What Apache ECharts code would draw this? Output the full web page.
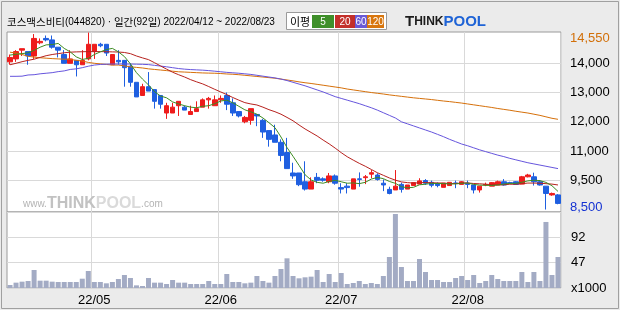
<!DOCTYPE html>
<html><head><meta charset="utf-8">
<script src="https://cdn.jsdelivr.net/npm/echarts@6/dist/echarts.min.js"></script>
<style>html,body{margin:0;padding:0;background:#ebebeb}#c{width:620px;height:310px}</style>
</head><body><div id="c"></div><script>
const dates = [
'2022/04/12','2022/04/13','2022/04/14','2022/04/15','2022/04/18','2022/04/19','2022/04/20','2022/04/21','2022/04/22','2022/04/25','2022/04/26','2022/04/27','2022/04/28','2022/04/29',
'2022/05/02','2022/05/03','2022/05/04','2022/05/06','2022/05/09','2022/05/10','2022/05/11','2022/05/12','2022/05/13','2022/05/16','2022/05/17','2022/05/18','2022/05/19','2022/05/20','2022/05/23','2022/05/24','2022/05/25','2022/05/26','2022/05/27','2022/05/30','2022/05/31',
'2022/06/02','2022/06/03','2022/06/07','2022/06/08','2022/06/09','2022/06/10','2022/06/13','2022/06/14','2022/06/15','2022/06/16','2022/06/17','2022/06/20','2022/06/21','2022/06/22','2022/06/23','2022/06/24','2022/06/27','2022/06/28','2022/06/29','2022/06/30',
'2022/07/01','2022/07/04','2022/07/05','2022/07/06','2022/07/07','2022/07/08','2022/07/11','2022/07/12','2022/07/13','2022/07/14','2022/07/15','2022/07/18','2022/07/19','2022/07/20','2022/07/21','2022/07/22','2022/07/25','2022/07/26','2022/07/27','2022/07/28','2022/07/29',
'2022/08/01','2022/08/02','2022/08/03','2022/08/04','2022/08/05','2022/08/08','2022/08/09','2022/08/10','2022/08/11','2022/08/12','2022/08/16','2022/08/17','2022/08/18','2022/08/19','2022/08/22','2022/08/23'];

const opens = [13550,13650,13950,13900,13750,14200,14350,14300,14050,13800,
 13500,13600,13450,13650,13900,14150,14150,13450,13600,13600,
 13400,12850,12400,12700,12600,12400,11800,11800,12050,12000,
 11750,11850,12000,12250,12050,12250,12400,12150,11850,11500,
 11550,11750,11550,11200,11050,10800,10450,9750,9750,9450,
 9200,9600,9550,9450,9650,9250,9300,9200,9550,9590,
 9710,9680,9400,9190,9170,9360,9200,9320,9370,9490,
 9430,9370,9260,9320,9410,9360,9400,9340,9170,9340,
 9300,9340,9450,9420,9450,9370,9620,9620,9450,9300,
 9000,9000];
const highs = [13800,13950,14000,13900,14500,14350,14450,14450,14050,13950,
 13950,13600,13950,14550,14150,14200,14150,13800,13950,13600,
 13500,12850,12800,13200,12600,12400,12150,12150,12200,12050,
 12050,12200,12300,12350,12400,12400,12500,12300,11850,11700,
 11950,11750,11600,11200,11400,10900,10950,10100,9750,10150,
 9600,9750,9600,9750,9700,9400,9400,9550,9770,9680,
 9850,9740,9530,9280,9850,9420,9340,9420,9570,9540,
 9490,9430,9400,9430,9490,9470,9490,9340,9300,9420,
 9440,9490,9540,9450,9470,9650,9720,9760,9510,9300,
 9080,9030];
const lows = [13450,13550,13750,13450,13650,14150,14250,14000,13700,13500,
 13500,13050,13450,13600,13650,14050,13750,13450,13450,12700,
 12700,12350,12400,12550,11950,11950,11600,11800,11700,11900,
 11750,11850,12000,11950,12050,12150,11900,11700,11650,11450,
 11400,11350,10950,10650,10800,10150,9900,9550,9300,9150,
 9200,9400,9450,9400,9350,9050,9050,9200,9280,9370,
 9570,9490,9130,9020,9170,9080,9200,9320,9370,9340,
 9260,9260,9260,9320,9230,9360,9230,9050,9080,9300,
 9300,9340,9320,9380,9360,9370,9600,9320,9320,8500,
 8970,8680];
const closes = [13700,13900,14000,13750,14350,14250,14300,14050,13950,13500,
 13650,13450,13600,14150,14150,14100,13850,13800,13550,13350,
 12850,12350,12700,12550,12200,12100,12050,12000,12200,11900,
 11850,11950,12250,12300,12250,12300,12100,11800,11700,11650,
 11950,11700,11150,10900,10800,10350,9900,9650,9350,9200,
 9450,9500,9500,9650,9400,9200,9250,9550,9530,9620,
 9760,9530,9340,9050,9300,9190,9340,9420,9480,9400,
 9330,9320,9400,9430,9390,9450,9360,9170,9300,9360,
 9420,9450,9340,9400,9360,9620,9680,9450,9340,9050,
 9050,8710];
// volume, x1000 shares
const volumes = [5.4,9.7,11.5,12.7,32.7,13.3,13.3,11.5,10.9,10.9,
 10.9,10.9,16.9,30.9,10.9,10.9,8.5,10.9,16.3,23.6,
 18.2,4.8,3.6,18.2,9.7,9.7,7.3,14.5,9.7,9.7,
 7.3,7.3,7.3,12.7,7.3,7.3,25.4,10.9,10.9,8.5,
 9.7,21.8,12.7,9.7,21.8,34.5,53.9,21.8,17.6,19.4,
 20.6,32.7,10.9,25.4,10.9,27.2,7.3,9.1,12.7,7.3,
 9.1,7.3,21.8,56.3,134.4,38.1,12.7,12.7,52.7,29.1,
 14.5,14.5,10.9,10.9,18.2,21.8,14.5,23.6,9.1,12.7,
 23.6,16.3,12.7,12.7,12.7,29.1,10.9,29.1,12.7,119.9,
 23.6,56.3];
const ma5 = [13780,13810,13830,13860,13940,14050,14130,14140,14180,14010,
 13890,13720,13630,13670,13800,13890,13970,14010,13890,13730,
 13480,13180,12960,12760,12530,12380,12320,12180,12110,12050,
 12000,11980,12030,12050,12120,12210,12240,12150,12030,11910,
 11840,11760,11630,11470,11300,10980,10620,10320,10010,9690,
 9510,9430,9400,9460,9500,9450,9400,9410,9386,9430,
 9542,9598,9556,9460,9396,9282,9244,9260,9346,9366,
 9394,9390,9386,9376,9374,9398,9406,9360,9334,9328,
 9322,9340,9374,9394,9394,9434,9480,9502,9490,9428,
 9314,9120];
const ma20 = [13450,13500,13555,13600,13640,13700,13760,13800,13830,13860,
 13880,13890,13895,13900,13900,13900,13895,13890,13885,13870,
 13830,13750,13685,13625,13520,13410,13300,13195,13110,13030,
 12940,12865,12795,12705,12610,12520,12430,12330,12240,12155,
 12110,12075,12000,11915,11845,11760,11650,11535,11390,11255,
 11135,11015,10875,10745,10600,10445,10305,10190,10080,9980,
 9870,9760,9670,9580,9505,9445,9420,9405,9415,9425,
 9415,9410,9405,9390,9390,9405,9410,9390,9380,9365,
 9350,9345,9345,9365,9365,9385,9405,9405,9400,9385,
 9370,9340];
const ma60 = [13055,13055,13060,13100,13110,13140,13160,13180,13215,13240,
 13290,13310,13350,13400,13440,13460,13470,13475,13475,13475,
 13475,13470,13465,13455,13430,13405,13380,13350,13320,13300,
 13285,13275,13265,13250,13230,13210,13190,13175,13160,13140,
 13120,13090,13060,13030,13000,12960,12910,12850,12790,12730,
 12660,12590,12520,12440,12360,12300,12240,12180,12120,12050,
 11980,11900,11810,11720,11630,11500,11430,11360,11290,11220,
 11150,11070,10990,10900,10820,10740,10680,10610,10540,10480,
 10420,10360,10310,10250,10200,10150,10100,10060,10020,9980,
 9940,9900];
const ma120 = [13880,13850,13800,13740,13710,13690,13675,13660,13650,13640,
 13635,13600,13580,13530,13500,13480,13460,13440,13440,13410,
 13380,13360,13340,13310,13290,13270,13250,13230,13210,13200,
 13190,13180,13170,13165,13160,13150,13135,13125,13110,13090,
 13070,13050,13030,13010,12990,12960,12930,12900,12865,12835,
 12810,12780,12750,12720,12690,12660,12620,12590,12560,12530,
 12500,12475,12450,12420,12395,12370,12345,12320,12300,12280,
 12260,12235,12210,12190,12165,12140,12110,12080,12050,12020,
 11990,11955,11925,11895,11860,11830,11800,11760,11720,11670,
 11620,11585];

const priceGridValues = [13500, 12500, 11500, 10500, 9500];
const priceGridLabels = ['14,000', '13,000', '12,000', '11,000', '9,500'];
const volTickLabels = {0: 'x1000', 46: '47', 92: '92'};
const maNames = ['5', '20', '60', '120'];
const maColors = ['#3d8c22', '#b7221e', '#6655dd', '#d6700a'];
const legendColors = ['#3f8f2a', '#c3302a', '#6a5ad6', '#d8760e'];
const titleText = '코스맥스비티(044820) · 일간(92일) 2022/04/12 ~ 2022/08/23';

const FONT = 'Liberation Sans';
const KFONT = '"Noto Sans CJK KR"';
const UP = '#ee1c1c', DOWN = '#1f5fe0';

const monthStarts = new Set();
dates.forEach((d, i) => { if (i > 0 && d.slice(5, 7) !== dates[i - 1].slice(5, 7)) monthStarts.add(i); });
const fmtMonth = d => d.slice(2, 4) + '/' + d.slice(5, 7);
const hiMax = Math.max(...highs), loMin = Math.min(...lows);
const fmtNum = v => v.toLocaleString('en-US');

// split title into Hangul / other runs for mixed fonts
const titleRich = titleText.match(/[\uAC00-\uD7A3]+|[^\uAC00-\uD7A3]+/g)
  .map(s => /[\uAC00-\uD7A3]/.test(s) ? '{k|' + s + '}' : '{a|' + s + '}').join('');

const candleData = dates.map((d, i) => [opens[i], closes[i], lows[i], highs[i]]);

const HIDE = { color: 'rgba(0,0,0,0)' };
const gridMarks = priceGridValues.map((v, k) => ({ yAxis: v, name: priceGridLabels[k] }));
gridMarks.push({ yAxis: hiMax, name: fmtNum(hiMax), lineStyle: HIDE, label: { color: '#d2700a', formatter: '\n{b}', lineHeight: 11 } });
gridMarks.push({ yAxis: loMin, name: fmtNum(loMin), lineStyle: HIDE, label: { color: '#1432d2', formatter: '{b}\n', lineHeight: 5 } });

const GL = 7, GW = 554;
const splitX = { show: true, interval: (i) => monthStarts.has(i), lineStyle: { color: '#d9d9d9', width: 1 } };

// legend graphics
const legendEls = [
  { type: 'rect', shape: { x: 286.5, y: 12.5, width: 100, height: 17 }, style: { fill: '#fff', stroke: '#9a9a9a', lineWidth: 1 } },
  { type: 'text', x: 290, y: 21.5, style: { text: '이평', font: '11px ' + KFONT, fill: '#000', verticalAlign: 'middle' } }
];
const boxX = [312, 335, 355, 367], boxW = [22, 20, 12, 17];
maNames.forEach((n, k) => {
  legendEls.push({ type: 'rect', shape: { x: boxX[k], y: 15, width: boxW[k], height: 13 }, style: { fill: legendColors[k] } });
  legendEls.push({ type: 'text', x: boxX[k] + boxW[k] / 2, y: 21.8, style: { text: n, font: '10px ' + FONT, fill: '#fff', align: 'center', verticalAlign: 'middle' } });
});

const chart = echarts.init(document.getElementById('c'), null, { renderer: 'canvas', width: 620, height: 310 });
chart.setOption({
  animation: false,
  backgroundColor: '#ebebeb',
  grid: [
    { left: GL, top: 32, width: GW, height: 180, show: true, backgroundColor: '#fff', borderColor: '#9a9a9a', borderWidth: 1 },
    { left: GL, top: 212, width: GW, height: 76, show: true, backgroundColor: '#fff', borderColor: '#9a9a9a', borderWidth: 1 }
  ],
  xAxis: [
    { type: 'category', gridIndex: 0, data: dates, boundaryGap: true, axisLine: { show: false }, axisTick: { show: false }, axisLabel: { show: false }, splitLine: splitX },
    { type: 'category', gridIndex: 1, data: dates, boundaryGap: true, axisLine: { show: false }, axisTick: { show: false },
      axisLabel: { show: true, interval: (i) => monthStarts.has(i), formatter: v => fmtMonth(v), color: '#000', fontSize: 13, fontFamily: FONT, margin: 6 },
      splitLine: splitX }
  ],
  yAxis: [
    { type: 'value', gridIndex: 0, min: 8416, max: 14570, show: false, splitLine: { show: false } },
    { type: 'value', gridIndex: 1, position: 'right', min: 0, max: 138, interval: 46,
      axisLine: { show: false }, axisTick: { show: false },
      axisLabel: { formatter: v => volTickLabels[v] || '', color: '#000', fontSize: 13, fontFamily: FONT, margin: 10, align: 'left' },
      splitLine: { show: true, lineStyle: { color: '#d9d9d9', width: 1 } } }
  ],
  graphic: [
    { type: 'rect', shape: { x: 1.5, y: 1.5, width: 617, height: 307 }, style: { fill: 'none', stroke: '#a0a0a0', lineWidth: 1 }, z: 10 },
    { type: 'text', x: 7, y: 22.5, style: { text: titleRich, verticalAlign: 'middle',
        rich: { k: { font: '10.5px ' + KFONT, fill: '#000' }, a: { font: '10px ' + FONT, fill: '#000' } } } },
    { type: 'group', children: legendEls },
    { type: 'text', x: 405, y: 22, style: { text: '{t|T}{h|HINK}{p|POOL}', verticalAlign: 'middle',
        rich: { t: { font: 'bold 15px ' + FONT, fill: '#1c1c1c' }, h: { font: 'bold 12px ' + FONT, fill: '#1c1c1c' }, p: { font: 'bold 15px ' + FONT, fill: '#1e63d6' } } } },
    { type: 'text', x: 23, y: 212, z: 1, style: { text: '{w|www.}{t|THINK}{p|POOL}{c|.com}', verticalAlign: 'bottom',
        rich: { w: { font: '10px ' + FONT, fill: '#b4b4b4' }, t: { font: 'bold 16px ' + FONT, fill: '#c2c2c2' }, p: { font: 'bold 16px ' + FONT, fill: '#dadada' }, c: { font: '10px ' + FONT, fill: '#b4b4b4' } } } }
  ],
  series: [
    { type: 'candlestick', name: 'price', xAxisIndex: 0, yAxisIndex: 0, data: candleData, barWidth: 5,
      itemStyle: { color: UP, color0: DOWN, borderColor: UP, borderColor0: DOWN, borderWidth: 1 },
      markLine: { silent: true, z: 1, symbol: ['none', 'none'], animation: false,
        lineStyle: { color: '#d9d9d9', type: 'solid', width: 1 },
        label: { position: 'end', formatter: '{b}', color: '#000', fontSize: 13, fontFamily: FONT, distance: 9 },
        emphasis: { disabled: true }, data: gridMarks } },
    ...[ma120, ma60, ma20, ma5].map((arr, k) => ({
      type: 'line', name: 'MA' + maNames[3 - k], xAxisIndex: 0, yAxisIndex: 0, data: arr, showSymbol: false, symbol: 'none',
      lineStyle: { color: maColors[3 - k], width: 1 }, z: 3 })),
    { type: 'bar', name: 'volume', xAxisIndex: 1, yAxisIndex: 1, data: volumes, barWidth: 5, itemStyle: { color: '#a3abc4' } }
  ]
});
</script></body></html>
